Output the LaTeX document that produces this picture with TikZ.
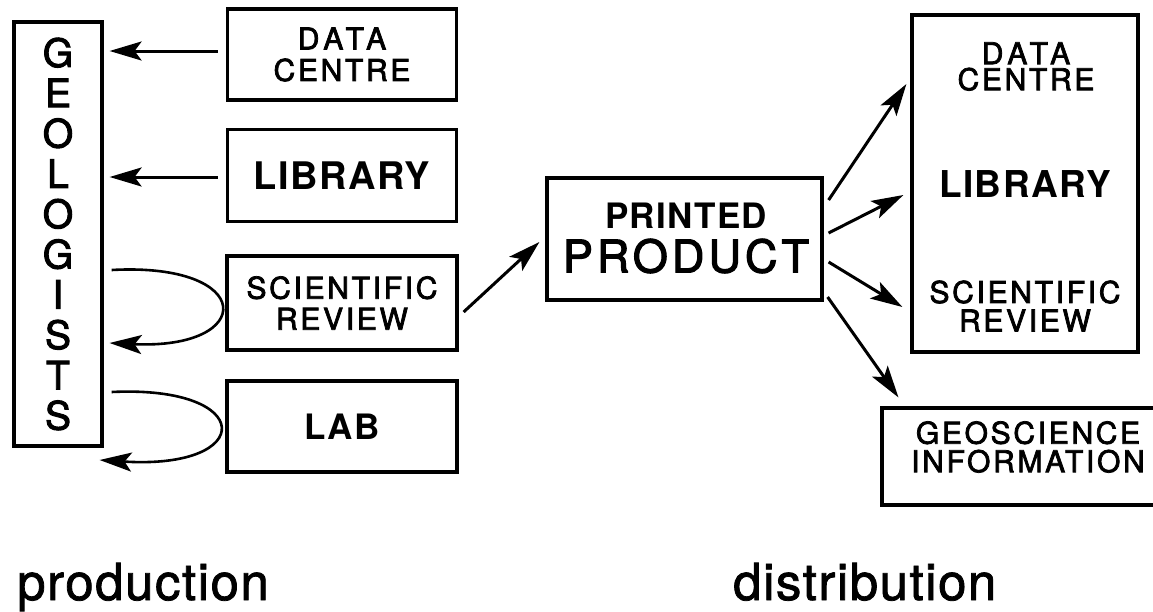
\documentclass[tikz,border=0pt]{standalone}
\usepackage{fontspec}
\setmainfont{TeX Gyre Heros}
% medium-weight tracked face for box labels
\newfontfamily\medf[LetterSpace=9,FakeBold=2.5]{TeX Gyre Heros}
\newfontfamily\medwide[LetterSpace=17,FakeBold=2.5]{TeX Gyre Heros}
\newfontfamily\boldf[LetterSpace=4]{TeX Gyre Heros Bold}
\newfontfamily\capf[LetterSpace=3,FakeBold=1.5]{TeX Gyre Heros}
\usetikzlibrary{arrows.meta,calc}

\tikzset{
  box/.style={draw,line width=3.2pt,inner sep=0pt,align=center},
  lbl/.style={inner sep=0pt,align=center},
  arr/.style={line width=3pt,-{Stealth[length=32pt,width=19pt,inset=7pt]}},
  loopa/.style={line width=2.6pt,-{Stealth[length=32pt,width=19pt,inset=7pt]}},
  caption/.style={inner sep=0pt,anchor=base west,font=\capf\fontsize{51}{51}\selectfont}
}

\begin{document}
\begin{tikzpicture}[x=1pt,y=-1pt]
\useasboundingbox (0,0) rectangle (1153,611);
\clip (0,0) rectangle (1153,611);

% production side
\node[box,minimum width=88pt,minimum height=424pt,
      font=\medf\fontsize{39}{40.3}\selectfont] (geo) at (58,234)
  {G\\E\\O\\L\\O\\G\\I\\S\\T\\S};

\node[box,minimum width=229pt,minimum height=91pt,
      font=\fontsize{30}{31.5}\selectfont] (dcl) at (342,54.5)
  {{\medwide DATA}\\{\medf CENTRE}};
\node[box,minimum width=229pt,minimum height=92pt,
      font=\boldf\fontsize{38}{38}\selectfont] (libl) at (342,175.5) {LIBRARY};
\node[box,minimum width=230pt,minimum height=94pt,
      font=\medf\fontsize{30}{31}\selectfont] (srl) at (342,303)
  {SCIENTIFIC\\REVIEW};
\node[box,minimum width=230pt,minimum height=91pt,
      font=\boldf\fontsize{35}{35}\selectfont] (lab) at (342,426.5) {LAB};

% central product
\node[box,minimum width=275pt,minimum height=122pt] (pp) at (684.5,239) {};
\node[lbl,font=\boldf\fontsize{35}{35}\selectfont] (pp1) at (686,215.5) {PRINTED};
\node[lbl,font=\medf\fontsize{45}{45}\selectfont] (pp2) at (686,256) {PRODUCT};

% distribution side
\node[box,minimum width=226pt,minimum height=337pt] (dist) at (1025,183.5) {};
\node[lbl,font=\fontsize{30}{26}\selectfont] (rdc) at (1026,66.5)
  {{\medwide DATA}\\{\medf CENTRE}};
\node[lbl,font=\boldf\fontsize{37}{37}\selectfont] (rlib) at (1025,184) {LIBRARY};
\node[lbl,font=\medf\fontsize{30}{28.5}\selectfont] (rsr) at (1025,306)
  {SCIENTIFIC\\REVIEW};

\node[box,minimum width=290pt,minimum height=97pt] (gbox) at (1027,456.5) {};
\node[lbl,font=\medf\fontsize{30}{28.5}\selectfont] (gtxt) at (1028,447)
  {GEOSCIENCE\\INFORMATION};

\node[caption] (prod) at (17,600) {production};
\node[caption] (distr) at (733,600) {distribution};

% production flows
\draw[arr] ($(dcl.west)+(-8,-3.5)$) -- ($(geo.east|-dcl.west)+(6,-3.5)$);
\draw[arr] ($(libl.west)+(-8,1.5)$) -- ($(geo.east|-libl.west)+(6,1.5)$);
\draw[loopa] ($(geo.east)+(8,36)$)
  .. controls ($(geo.east)+(153,28)$) and ($(geo.east)+(153,116)$)
  .. ($(geo.east)+(6,109)$);
\draw[loopa] ($(geo.east)+(8,158)$)
  .. controls ($(geo.east)+(153,151)$) and ($(geo.east)+(153,236)$)
  .. ($(geo.east)+(-4,226)$);
\draw[arr] ($(srl.east)+(5,9)$) -- ($(pp.west)+(-6,3)$);

% distribution flows
\draw[arr] ($(pp.east)+(5,-39)$) -- ($(dist.west)+(-4,-99.5)$);
\draw[arr] ($(pp.east)+(5,-6)$) -- ($(dist.west)+(-7,11.5)$);
\draw[arr] ($(pp.east)+(5,23)$) -- ($(dist.west)+(-8,123.5)$);
\draw[arr] ($(pp.east)+(4,58)$) -- ($(gbox.north west)+(18,-9)$);
\end{tikzpicture}
\end{document}
